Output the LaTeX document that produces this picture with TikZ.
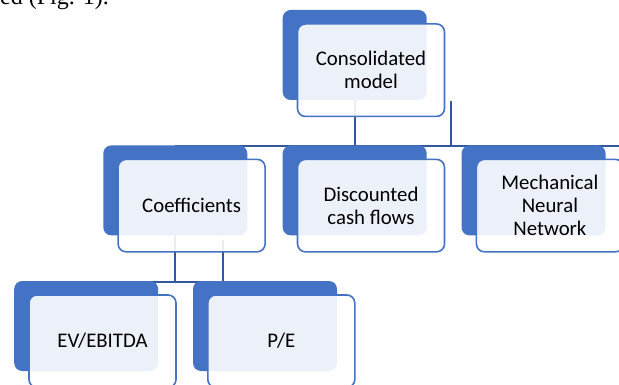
\documentclass[tikz,border=0pt]{standalone}
\usepackage{fontspec}
\setmainfont{Carlito}
\newfontfamily\captionfont{Liberation Serif}
\usetikzlibrary{calc, backgrounds}
\definecolor{smartBlue}{RGB}{68, 114, 196}
\definecolor{linkBlue}{RGB}{50, 88, 160}
\tikzset{
    backbox/.style={rectangle, rounded corners=8pt, fill=smartBlue, minimum width=144pt, minimum height=90pt, inner sep=0pt},
    frontbox/.style={rectangle, rounded corners=8pt, draw=smartBlue, line width=1.6pt, fill=white, fill opacity=0.9, text opacity=1, minimum width=147pt, minimum height=92.5pt, inner sep=0pt, align=center, font=\fontsize{20.8}{23}\selectfont},
    link/.style={draw=linkBlue, line width=2pt}
}

\begin{document}
\begin{tikzpicture}[x=1pt, y=-1pt]
    % Canvas of the figure
    \useasboundingbox (0,0) rectangle (619,385);
    \clip (0,0) rectangle (619,385);

    % Tail of the sentence above the figure
    \node[anchor=base west, inner sep=0pt, font=\captionfont\fontsize{24}{24}\selectfont] (caption) at (0,5) {ed (Fig. 1).};

    % Dark back boxes
    \node[backbox] (cmodelback) at (354.7,55) {};
    \node[backbox] (coeffback) at (175.3,190.4) {};
    \node[backbox] (dcfback) at (354.7,190.4) {};
    \node[backbox] (mnnback) at (533.6,190.4) {};
    \node[backbox] (evback) at (86.2,326) {};
    \node[backbox] (peback) at (265,326) {};

    % Light front boxes with the labels
    \node[frontbox] (cmodel) at ($(cmodelback)+(16.3,15.2)$) {Consolidated\\model};
    \node[frontbox] (coeff) at ($(coeffback)+(16.3,15.2)$) {Coefficients};
    \node[frontbox] (dcf) at ($(dcfback)+(16.3,15.2)$) {Discounted\\cash flows};
    \node[frontbox] (mnn) at ($(mnnback)+(16.3,15.2)$) {Mechanical\\Neural\\Network};
    \node[frontbox] (ev) at ($(evback)+(16.3,15.2)$) {EV/EBITDA};
    \node[frontbox] (pe) at ($(peback)+(16.3,15.2)$) {P/E};

    % Connectors behind the boxes
    \begin{scope}[on background layer]
        \coordinate (topbusL) at ($(coeffback.north)+(0,1)$);
        \coordinate (topbusR) at ($(mnnback.north east)+(30,1)$);
        \coordinate (cmodeltick) at ($(cmodel.south east)+(6,-16)$);
        \coordinate (lowbusL) at ($(evback.north)+(0,1)$);
        \coordinate (lowbusR) at ($(peback.north)+(0,1)$);
        \coordinate (coefftick) at ($(coeff.south)+(31.4,-13)$);

        \draw[link] (topbusL) -- (topbusR);
        \draw[link] (cmodelback.center) -- (cmodelback.center |- topbusL);
        \draw[link] (cmodeltick) -- (cmodeltick |- topbusL);

        \draw[link] (lowbusL) -- (lowbusR);
        \draw[link] (coeffback.center) -- (coeffback.center |- lowbusL);
        \draw[link] (coefftick) -- (coefftick |- lowbusL);
    \end{scope}
\end{tikzpicture}
\end{document}
